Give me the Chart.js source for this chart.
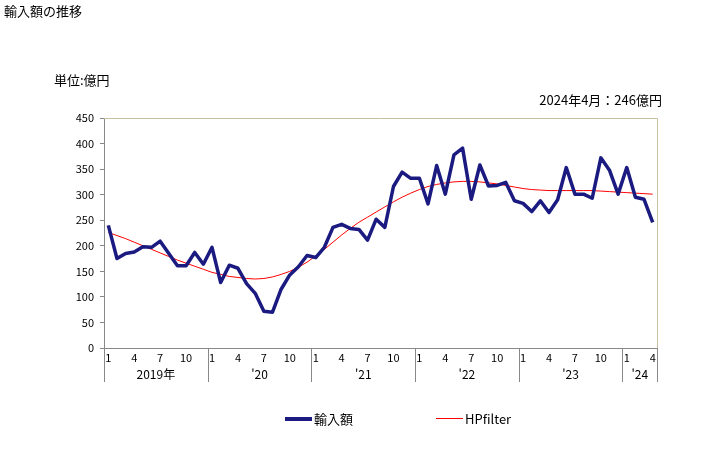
<!DOCTYPE html>
<html lang="ja">
<head>
<meta charset="utf-8">
<title>輸入額の推移</title>
<script src="https://cdn.jsdelivr.net/npm/chart.js@4.4.1/dist/chart.umd.min.js"></script>
<style>
  html, body { margin: 0; padding: 0; background: #fff; }
  #wrap { position: relative; width: 728px; height: 450px; font-family: "Noto Sans CJK JP", sans-serif; color: #000; }
  #myChart { position: absolute; left: 0; top: 0; }
  .txt { position: absolute; font-size: 13px; white-space: nowrap; line-height: 1; }
  .legend { position: absolute; top: 412px; font-size: 13px; display: flex; align-items: center; line-height: 1; }
  .legend span.ln { display: inline-block; width: 27px; margin-right: 2px; }
</style>
</head>
<body>
<div id="wrap">
  <canvas id="myChart" width="728" height="450"></canvas>
  <div class="txt" style="left:4px; top:4px;">輸入額の推移</div>
  <div class="txt" style="left:54px; top:73px;">単位:億円</div>
  <div class="txt" style="right:66px; top:93px;">2024年4月：246億円</div>
  <div class="legend" style="left:285px;"><span class="ln" style="border-top:4px solid #1a1a80;"></span>輸入額</div>
  <div class="legend" style="left:436px;"><span class="ln" style="border-top:1px solid #ff0000;"></span>HPfilter</div>
</div>
<script>
// 2019年1月〜2024年4月 (月次)
const years = ["2019年", "'20", "'21", "'22", "'23", "'24"];
const monthLabels = [];
for (let y = 2019; y <= 2024; y++) {
  for (let m = 1; m <= 12; m++) {
    if (y === 2024 && m > 4) break;
    monthLabels.push(y + "/" + m);
  }
}

const importValues = [
  240, 175, 185, 188, 198, 197, 209, 185, 161, 161, 187, 164,
  197, 128, 162, 156, 126, 107, 72, 70, 115, 143, 159, 181,
  177, 197, 236, 242, 234, 232, 211, 252, 236, 316, 344, 332,
  332, 282, 357, 301, 378, 391, 291, 358, 317, 318, 324, 288,
  283, 267, 288, 265, 290, 353, 301, 301, 293, 372, 348, 301,
  353, 295, 291, 246
];

const hpValues = [
  226, 220, 214, 207, 200, 193, 186, 179, 172, 166, 160, 154,
  148, 144, 140, 138, 136, 135, 136, 139, 144, 150, 158, 168,
  180, 193, 207, 221, 234, 246, 256, 266, 276, 286, 295, 303,
  310, 316, 320, 323, 325, 326, 326, 325, 323, 321, 318, 315,
  312, 310, 309, 308, 308, 308, 308, 308, 308, 307, 306, 305,
  304, 303, 302, 301
];

const yTicks = [0, 50, 100, 150, 200, 250, 300, 350, 400, 450];
const tickMonths = ["1", "4", "7", "10"];

const FONT = '"Noto Sans CJK JP", sans-serif';

// 月ラベル・年ラベル・区切り線・枠線
const axisPlugin = {
  id: "axisPlugin",
  afterDraw(chart) {
    const c = chart.ctx;
    const xs = chart.scales.x;
    const area = chart.chartArea;
    c.save();
    // top/right frame
    c.strokeStyle = "#c8c0a0";
    c.lineWidth = 1;
    c.beginPath();
    c.moveTo(area.left, area.top + 0.5);
    c.lineTo(area.right + 0.5, area.top + 0.5);
    c.lineTo(area.right + 0.5, area.bottom);
    c.stroke();

    c.fillStyle = "#000";
    c.font = "11px " + FONT;
    c.textAlign = "center";
    c.textBaseline = "top";
    monthLabels.forEach((lab, i) => {
      const m = lab.split("/")[1];
      if (tickMonths.includes(m)) {
        c.fillText(m, xs.getPixelForValue(i), area.bottom + 4);
      }
    });

    // 年の区切り
    c.strokeStyle = "#888";
    const bounds = [];
    for (let i = 0; i < monthLabels.length; i += 12) {
      const x = i === 0 ? area.left : (xs.getPixelForValue(i - 1) + xs.getPixelForValue(i)) / 2;
      bounds.push(x);
    }
    bounds.push(area.right);
    c.beginPath();
    bounds.forEach(x => {
      const px = Math.round(x) + 0.5;
      c.moveTo(px, area.bottom);
      c.lineTo(px, area.bottom + 34);
    });
    c.stroke();

    c.font = "12px " + FONT;
    years.forEach((y, k) => {
      c.fillText(y, (bounds[k] + bounds[k + 1]) / 2, area.bottom + 20);
    });
    c.restore();
  }
};

const ctx = document.getElementById("myChart").getContext("2d");
const myChart = new Chart(ctx, {
  type: "line",
  data: {
    labels: monthLabels,
    datasets: [
      {
        label: "輸入額",
        data: importValues,
        borderColor: "#1a1a80",
        borderWidth: 3.5,
        pointRadius: 0,
        tension: 0,
        borderJoinStyle: "round"
      },
      {
        label: "HPfilter",
        data: hpValues,
        borderColor: "#ff0000",
        borderWidth: 1,
        pointRadius: 0,
        tension: 0
      }
    ]
  },
  options: {
    responsive: false,
    animation: false,
    devicePixelRatio: 1,
    layout: { padding: { top: 118, right: 71, left: 0, bottom: 0 } },
    plugins: {
      legend: { display: false },
      tooltip: { enabled: false }
    },
    scales: {
      x: {
        offset: true,
        grid: { display: false },
        border: { display: true, color: "#888" },
        ticks: { display: false },
        afterFit(s) { s.height = 102; }
      },
      y: {
        min: 0,
        max: 450,
        afterBuildTicks(s) { s.ticks = yTicks.map(v => ({ value: v })); },
        grid: { drawOnChartArea: false, drawTicks: true, tickLength: 4, color: "#888" },
        border: { display: true, color: "#888" },
        ticks: { color: "#000", font: { family: FONT, size: 11 }, padding: 6 },
        afterFit(s) { s.width = 104; }
      }
    }
  },
  plugins: [axisPlugin]
});
</script>
</body>
</html>
